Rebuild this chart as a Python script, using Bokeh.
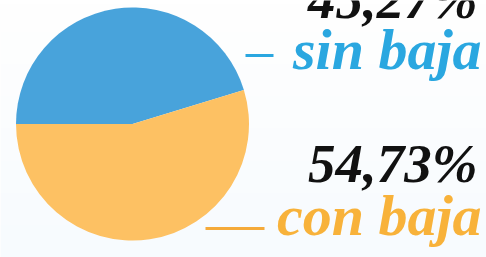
import numpy as np
from bokeh.plotting import figure
from bokeh.models import ColumnDataSource
from bokeh.core.properties import value
from bokeh.embed import file_html
from bokeh.resources import INLINE

# ---- data ----
categories = ["sin baja", "con baja"]
percentages = [45.27, 54.73]
pct_labels = ["45,27%", "54,73%"]
slice_colors = ["#48A3DB", "#FDC163"]
label_colors = ["#2AA7E0", "#F8B23A"]

W, H = 486, 257
p = figure(width=W, height=H, x_range=(0, W), y_range=(0, H),
           output_backend="svg", toolbar_location=None, min_border=0)
p.axis.visible = False
p.grid.visible = False
p.outline_line_color = None
p.background_fill_color = "#FFFFFF"
p.border_fill_color = "#FFFFFF"

# soft vertical background gradient
n = 64
t = np.linspace(0, 1, n)
r = (255 - 8 * (1 - t)).astype(np.uint32)
g = (255 - 4 * (1 - t)).astype(np.uint32)
b = (255 - 1 * (1 - t)).astype(np.uint32)
img = (255 << 24) | (b << 16) | (g << 8) | r
img = img.reshape(n, 1)
p.image_rgba(image=[img], x=0, y=0, dw=W, dh=H)

# pie
cx, cy, rad = 132, 133.5, 116.5
frac = np.array(percentages) / sum(percentages)
ends = np.pi - 2 * np.pi * np.cumsum(frac)
starts = np.concatenate([[np.pi], ends[:-1]])
src = ColumnDataSource(dict(start=starts, end=ends, color=slice_colors))
p.wedge(x=cx, y=cy, radius=rad, start_angle="start", end_angle="end",
        direction="clock", fill_color="color", line_color=None, source=src)

# labels
font = value("Liberation Serif")
p.text(x=[477, 477], y=[258, 94], text=pct_labels, text_color="#111111",
       text_font=font, text_font_style="bold italic", text_font_size="55px",
       text_align="right", text_baseline="alphabetic")
p.text(x=[481, 481], y=[208, 42], text=categories, text_color=label_colors,
       text_font=font, text_font_style="bold italic", text_font_size="58px",
       text_align="right", text_baseline="alphabetic")

# leader lines
p.segment(x0=[245, 205], y0=[202, 29], x1=[273, 264], y1=[202, 29],
          line_color=["#2AA7E0", "#F5AA3A"], line_width=3)

open("out.html", "w").write(file_html(p, INLINE))
